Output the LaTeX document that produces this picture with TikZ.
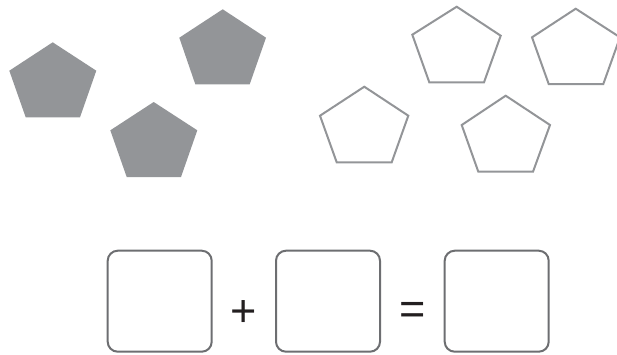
\documentclass[tikz,border=0pt]{standalone}
\usepackage{fontspec}
\setmainfont{Liberation Sans}
\definecolor{pentfill}{HTML}{939598}
\definecolor{boxline}{HTML}{6D6E71}
\definecolor{signcol}{HTML}{231F20}
\tikzset{
  solidpent/.style={fill=pentfill, draw=none},
  openpent/.style={draw=pentfill, line width=2pt, line join=miter, fill=none},
  answerbox/.style={draw=boxline, line width=2pt, rounded corners=10pt, minimum width=104pt, minimum height=101pt, inner sep=0pt},
  signtxt/.style={text=signcol, inner sep=0pt, font=\fontsize{45}{54}\selectfont}
}
\begin{document}
\begin{tikzpicture}[x=1pt,y=-1pt]
\useasboundingbox (0,0) rectangle (617,354);
% filled pentagons
\fill[solidpent] (52.7,42.3) -- (96.3,70.7) -- (80,117.3) -- (25.7,117.3) -- (9.3,70.7) -- cycle;
\fill[solidpent] (222.7,9.3) -- (266,37.7) -- (249.7,84.3) -- (195.3,84.3) -- (179.3,37.7) -- cycle;
\fill[solidpent] (153.7,102) -- (197.3,130.3) -- (181,177) -- (126.7,177) -- (110.3,130.3) -- cycle;
% outline pentagons
\draw[openpent] (456.7,6.7) -- (500.7,35.7) -- (484,82.3) -- (429.3,82.3) -- (412.3,34.7) -- cycle;
\draw[openpent] (575.7,8.7) -- (620,37.3) -- (603.3,84) -- (548.7,84) -- (532,37.3) -- cycle;
\draw[openpent] (364.3,86.7) -- (408.3,115.7) -- (391.7,162.3) -- (336.7,162.3) -- (320,115.7) -- cycle;
\draw[openpent] (505.7,95.7) -- (550,125) -- (533,171.7) -- (478.3,171.7) -- (461.7,125) -- cycle;
% boxes and signs
\node[answerbox] (boxa) at (159.7,301.2) {};
\node[answerbox] (boxb) at (328,301.2) {};
\node[answerbox] (boxc) at (496.7,301.2) {};
\node[signtxt] (plus) at (244,314) {+};
\node[signtxt] (equals) at (412.5,313.5) {=};
\end{tikzpicture}
\end{document}
